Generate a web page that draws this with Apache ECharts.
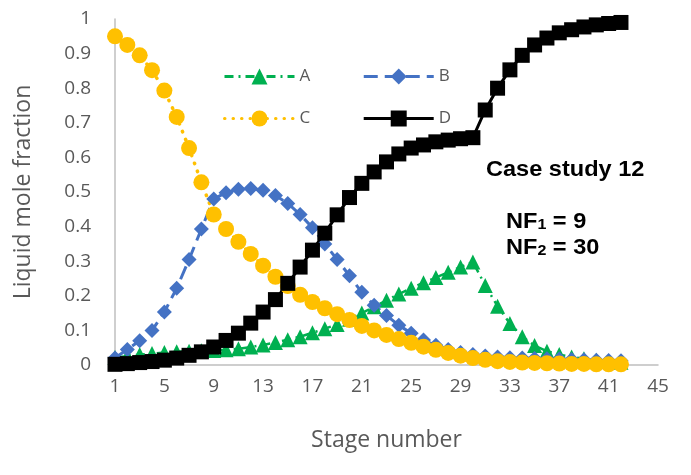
<!DOCTYPE html>
<html>
<head>
<meta charset="utf-8">
<script src="https://cdn.jsdelivr.net/npm/echarts@6/dist/echarts.min.js"></script>
<style>
  html, body { margin: 0; padding: 0; background: #fff; }
  #chart { width: 691px; height: 475px; }
</style>
</head>
<body>
<div id="chart"></div>
<script>
// Stage axis labels (category axis runs 1..45, data covers stages 1..42)
const stageLabels = Array.from({ length: 45 }, (_, i) => String(i + 1));

// Liquid mole fractions per stage
const compA = [0.022, 0.026, 0.03, 0.033, 0.036, 0.038, 0.04, 0.041, 0.042, 0.044,
  0.047, 0.052, 0.058, 0.065, 0.073, 0.082, 0.093, 0.105, 0.117, 0.132,
  0.15, 0.168, 0.187, 0.205, 0.222, 0.238, 0.253, 0.268, 0.283, 0.298,
  0.23, 0.17, 0.12, 0.082, 0.056, 0.04, 0.03, 0.023, 0.018, 0.014, 0.011, 0.008];
const compB = [0.02, 0.045, 0.07, 0.1, 0.153, 0.222, 0.305, 0.393, 0.48, 0.498,
  0.508, 0.51, 0.505, 0.49, 0.467, 0.435, 0.397, 0.35, 0.305, 0.258,
  0.21, 0.173, 0.143, 0.115, 0.092, 0.072, 0.057, 0.045, 0.036, 0.03,
  0.026, 0.023, 0.021, 0.02, 0.019, 0.018, 0.017, 0.016, 0.015, 0.014, 0.013, 0.012];
const compC = [0.95, 0.925, 0.895, 0.852, 0.793, 0.717, 0.627, 0.528, 0.435, 0.393,
  0.356, 0.321, 0.287, 0.255, 0.228, 0.203, 0.182, 0.164, 0.147, 0.13,
  0.113, 0.1, 0.087, 0.075, 0.064, 0.053, 0.044, 0.035, 0.027, 0.02,
  0.015, 0.011, 0.009, 0.007, 0.006, 0.005, 0.004, 0.003, 0.003, 0.002, 0.002, 0.002];
const compD = [0.002, 0.004, 0.007, 0.01, 0.014, 0.02, 0.028, 0.038, 0.052, 0.071,
  0.092, 0.121, 0.153, 0.189, 0.236, 0.283, 0.332, 0.381, 0.434, 0.484,
  0.525, 0.558, 0.587, 0.61, 0.627, 0.636, 0.645, 0.65, 0.654, 0.657,
  0.737, 0.8, 0.853, 0.895, 0.925, 0.945, 0.96, 0.969, 0.977, 0.983, 0.987, 0.99];

const yTicks = { min: 0, max: 1, step: 0.1 };

const chart = echarts.init(document.getElementById('chart'), null, { renderer: 'canvas' });

const axisFont = 'Open Sans';
const gray = '#595959';

function lineSeries(name, data, color, symbol, size, lineType, width, cap) {
  return {
    name, type: 'line', data,
    symbol, symbolSize: size, showAllSymbol: true,
    itemStyle: { color, borderWidth: 0 },
    lineStyle: { color, width, type: lineType, cap: cap || 'butt' },
    emphasis: { disabled: true },
    animation: false
  };
}

const legendText = { color: gray, fontSize: 17, fontFamily: axisFont };
const legendCommon = {
  left: 218, itemWidth: 70, itemHeight: 20, itemGap: 52,
  lineStyle: { width: 3 }, textStyle: legendText
};

// Annotation text: bold, slightly widened
const noteFont = { fill: '#000', fontSize: 22, fontWeight: 'bold', fontFamily: 'Liberation Sans' };
const subFont = { fill: '#000', fontSize: 15, fontWeight: 'bold', fontFamily: 'Liberation Sans', padding: [6, 0, 0, 0] };
const noteScale = 1.07;

chart.setOption({
  backgroundColor: '#ffffff',
  animation: false,
  grid: { left: 115, right: 33, top: 19, bottom: 110, containLabel: false },
  legend: [
    Object.assign({ data: ['A', 'B'], top: 63 }, legendCommon),
    Object.assign({ data: ['C', 'D'], top: 105 }, legendCommon)
  ],
  xAxis: {
    type: 'category', data: stageLabels, boundaryGap: false,
    name: 'Stage number', nameLocation: 'middle', nameGap: 64,
    nameTextStyle: { color: gray, fontSize: 23, fontFamily: axisFont },
    axisLine: { show: true, lineStyle: { color: '#bfbfbf', width: 1.5 } },
    axisTick: { show: false },
    axisLabel: { interval: 3, color: gray, fontSize: 19, fontFamily: axisFont, margin: 12 },
    splitLine: { show: false }
  },
  yAxis: {
    type: 'value', min: yTicks.min, max: yTicks.max, interval: yTicks.step,
    name: 'Liquid mole fraction', nameLocation: 'middle', nameGap: 80,
    nameTextStyle: { color: gray, fontSize: 23, fontFamily: axisFont },
    axisLine: { show: true, lineStyle: { color: '#bfbfbf', width: 1.5 } },
    axisTick: { show: false },
    axisLabel: { color: gray, fontSize: 19, fontFamily: axisFont, margin: 24 },
    splitLine: { show: false }
  },
  series: [
    lineSeries('A', compA, '#00b050', 'triangle', 15, [9, 5, 2, 5], 2.5),
    lineSeries('B', compB, '#4472c4', 'diamond', 15, [14, 7], 3),
    lineSeries('C', compC, '#ffc000', 'circle', 16, [0.5, 8], 3.5, 'round'),
    lineSeries('D', compD, '#000000', 'rect', 15, 'solid', 3)
  ],
  graphic: [
    {
      type: 'text', x: 486, y: 159, scaleX: noteScale,
      style: { text: 'Case study 12', align: 'left', verticalAlign: 'top',
        fill: '#000', font: 'bold 22px "Liberation Sans", Arial, sans-serif' }
    },
    {
      type: 'text', x: 506, y: 211, scaleX: noteScale,
      style: { text: '{m|NF}{s|1}{m| = 9}', align: 'left', verticalAlign: 'top', rich: { m: noteFont, s: subFont } }
    },
    {
      type: 'text', x: 506, y: 237, scaleX: noteScale,
      style: { text: '{m|NF}{s|2}{m| = 30}', align: 'left', verticalAlign: 'top', rich: { m: noteFont, s: subFont } }
    }
  ]
});
</script>
</body>
</html>
